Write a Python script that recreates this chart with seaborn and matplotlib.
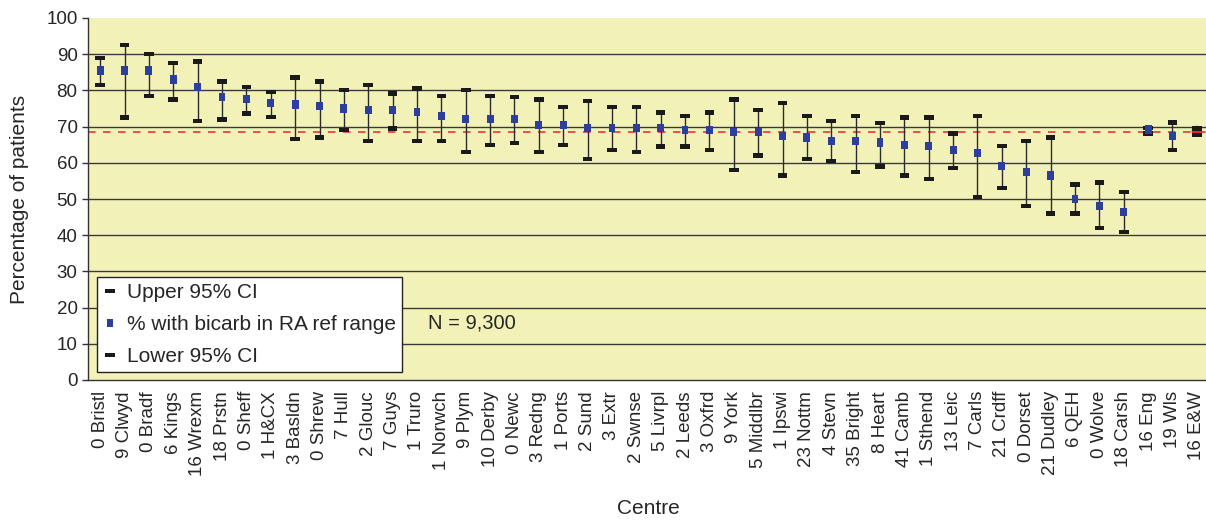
import numpy as np
import pandas as pd
import matplotlib
matplotlib.use("Agg")
import matplotlib.pyplot as plt
from matplotlib.lines import Line2D
import seaborn as sns

# Centre labels (number of patients excluded prefix + centre abbreviation)
centres = ["0 Bristl", "9 Clwyd", "0 Bradf", "6 Kings", "16 Wrexm", "18 Prstn",
           "0 Sheff", "1 H&CX", "3 Basldn", "0 Shrew", "7 Hull", "2 Glouc",
           "7 Guys", "1 Truro", "1 Norwch", "9 Plym", "10 Derby", "0 Newc",
           "3 Redng", "1 Ports", "2 Sund", "3 Extr", "2 Swnse", "5 Livrpl",
           "2 Leeds", "3 Oxfrd", "9 York", "5 Middlbr", "1 Ipswi", "23 Nottm",
           "4 Stevn", "35 Bright", "8 Heart", "41 Camb", "1 Sthend", "13 Leic",
           "7 Carls", "21 Crdff", "0 Dorset", "21 Dudley", "6 QEH", "0 Wolve",
           "18 Carsh", "16 Eng", "19 Wls", "16 E&W"]

# % of patients with bicarbonate in the renal association reference range
pct_in_range = [85.5, 85.5, 85.5, 83.0, 81.0, 78.1, 77.5, 76.6, 76.1, 75.6,
                75.0, 74.5, 74.5, 74.1, 73.0, 72.0, 72.0, 72.0, 70.5, 70.5,
                69.5, 69.5, 69.5, 69.5, 69.1, 69.1, 68.4, 68.4, 67.5, 67.0,
                65.9, 65.9, 65.6, 65.0, 64.6, 63.5, 62.6, 59.0, 57.4, 56.5,
                50.0, 48.0, 46.4, 69.2, 67.5, 68.8]

upper_ci = [89.0, 92.5, 90.1, 87.6, 88.0, 82.5, 81.0, 79.5, 83.6, 82.5,
            80.1, 81.5, 79.1, 80.5, 78.5, 80.1, 78.5, 78.1, 77.5, 75.5,
            77.0, 75.5, 75.5, 73.9, 73.0, 73.9, 77.5, 74.5, 76.6, 73.0,
            71.5, 73.0, 71.0, 72.5, 72.5, 68.1, 73.0, 64.6, 66.0, 67.0,
            54.0, 54.6, 52.0, 69.6, 71.1, 69.5]

lower_ci = [81.5, 72.5, 78.5, 77.5, 71.5, 72.0, 73.6, 72.6, 66.5, 67.0,
            69.1, 66.0, 69.5, 66.0, 66.0, 63.0, 65.0, 65.5, 63.0, 65.0,
            61.1, 63.5, 63.0, 64.5, 64.5, 63.5, 58.0, 62.0, 56.5, 61.0,
            60.5, 57.4, 59.0, 56.5, 55.5, 58.5, 50.5, 53.0, 48.0, 46.0,
            46.0, 42.0, 40.9, 68.1, 63.6, 67.7]

national_mean = 68.5
n_patients = "N = 9,300"

sns.set_style("white")
plt.rcParams["font.family"] = ["Liberation Sans", "DejaVu Sans"]

BLUE = "#2D3E9C"
RED = "#E8232B"
CAP = "#1a1a1a"
PANEL = "#F2F2B8"

df = pd.DataFrame({
    "pos": np.arange(len(centres)),
    "centre": centres,
    "pct": pct_in_range,
    "upper": upper_ci,
    "lower": lower_ci,
})
df["kind"] = np.where(df["centre"] == "16 E&W", "E&W", "centre")

W, H = 1206, 520
fig = plt.figure(figsize=(W / 100, H / 100), dpi=100)
left, right, top, bottom = 88, 1209, 18, 380
ax = fig.add_axes([left / W, 1 - bottom / H, (right - left) / W, (bottom - top) / H])
ax.set_facecolor(PANEL)

# rectangle markers for CI caps and the mean squares
cap_marker = [(-1, -0.45), (1, -0.45), (1, 0.45), (-1, 0.45), (-1, -0.45)]
sq_marker = [(-0.85, -1), (0.85, -1), (0.85, 1), (-0.85, 1), (-0.85, -1)]

# reference line for England & Wales
ax.axhline(national_mean, color="#E03A3A", lw=1.2, zorder=1.5,
           linestyle=(0, (4.5, 4.5)))

# CI whiskers
ax.vlines(df["pos"], df["lower"], df["upper"], color="#2b2b2b", lw=1.0, zorder=2)

sns.scatterplot(data=df, x="pos", y="upper", marker=cap_marker, s=48,
                color=CAP, edgecolor="none", linewidth=0, zorder=3, ax=ax, legend=False)
sns.scatterplot(data=df, x="pos", y="lower", marker=cap_marker, s=48,
                color=CAP, edgecolor="none", linewidth=0, zorder=3, ax=ax, legend=False)
sns.scatterplot(data=df[df["kind"] == "centre"], x="pos", y="pct", marker=sq_marker,
                s=34, color=BLUE, edgecolor="none", linewidth=0, zorder=4, ax=ax,
                legend=False)
sns.scatterplot(data=df[df["kind"] == "E&W"], x="pos", y="pct", marker="o",
                s=56, color=RED, edgecolor="none", linewidth=0, zorder=2.9, ax=ax,
                legend=False)

ax.set_xlim(-0.5, len(centres) - 0.5)
ax.set_ylim(0, 100)
ax.set_yticks(np.arange(0, 101, 10))
ax.set_xticks(df["pos"])
ax.set_xticklabels(centres, rotation=90, fontsize=13.5)
ax.set_xticks(np.arange(-0.5, len(centres), 1), minor=True)
ax.tick_params(axis="x", which="major", length=0, pad=8)
ax.tick_params(axis="x", which="minor", length=4.5, width=1, color="#333333",
               direction="out")
ax.tick_params(axis="y", length=4.5, width=1, color="#333333", pad=3,
               labelsize=13.5, direction="out", left=True)

ax.yaxis.grid(True, color="#3a3a3a", lw=1.0, zorder=0.5)
ax.set_axisbelow(True)
ax.get_ygridlines()[-1].set_visible(False)
ax.get_ygridlines()[0].set_visible(False)

for side in ("top", "right"):
    ax.spines[side].set_visible(False)
for side in ("left", "bottom"):
    ax.spines[side].set_color("#333333")
    ax.spines[side].set_linewidth(1.0)

ax.set_xlabel("Centre", fontsize=15)
ax.set_ylabel("Percentage of patients", fontsize=15)
ax.xaxis.set_label_coords(0.5, (bottom - 499) / (bottom - top))
ax.yaxis.set_label_coords((29 - left) / (right - left), 0.5)

handles = [
    Line2D([], [], linestyle="none", marker=cap_marker, markersize=6.6,
           markerfacecolor=CAP, markeredgewidth=0),
    Line2D([], [], linestyle="none", marker=sq_marker, markersize=5.2,
           markerfacecolor=BLUE, markeredgewidth=0),
    Line2D([], [], linestyle="none", marker=cap_marker, markersize=6.6,
           markerfacecolor=CAP, markeredgewidth=0),
]
labels = ["Upper 95% CI", "% with bicarb in RA ref range", "Lower 95% CI"]
leg = fig.legend(handles, labels, loc="upper left",
                 bbox_to_anchor=(97 / W, 1 - 277 / H), bbox_transform=fig.transFigure,
                 fontsize=15, frameon=True, fancybox=False, borderpad=0.3,
                 labelspacing=0.62, handlelength=0.6, handletextpad=0.55,
                 borderaxespad=0)
leg.get_frame().set_edgecolor("#222222")
leg.get_frame().set_linewidth(1.0)
leg.get_frame().set_facecolor("white")
leg.get_frame().set_alpha(1)

fig.text(428 / W, 1 - 323 / H, n_patients, fontsize=14.5, ha="left", va="center")

fig.savefig("out.png", dpi=100, facecolor="white")
